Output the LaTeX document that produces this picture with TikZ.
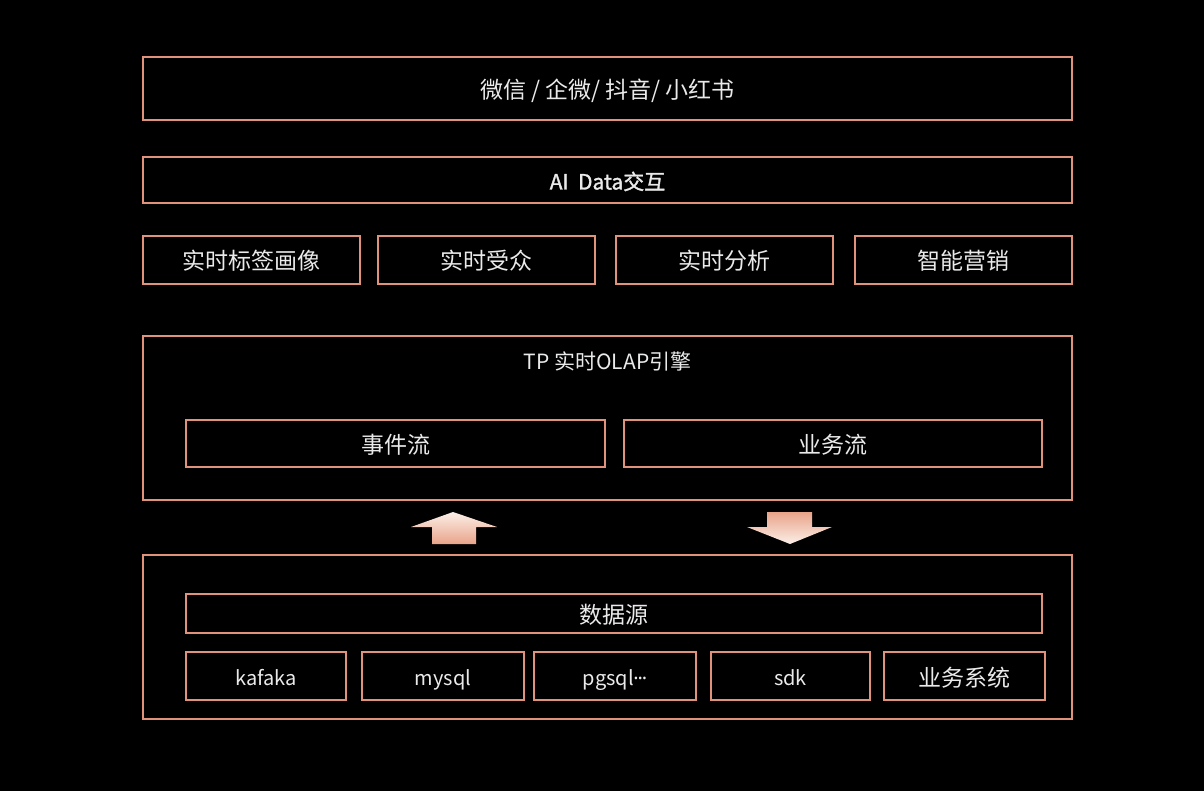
\documentclass[tikz,border=0pt]{standalone}
\usepackage{fontspec}
\setmainfont{Noto Sans CJK SC}
\newfontfamily\aifont[FakeBold=1.5]{Noto Sans CJK SC}
\newfontfamily\latinf{Noto Sans}
\usetikzlibrary{shadings}
\definecolor{boxc}{HTML}{E0937A}
\definecolor{txtc}{HTML}{EAEAEA}
\definecolor{arrl}{HTML}{FCEFE8}
\definecolor{arrd}{HTML}{E8A489}
\begin{document}
\begin{tikzpicture}[x=1pt,y=-1pt,
  bx/.style={draw=boxc,line width=2.4pt,text=txtc,inner sep=0pt,text height=20pt,text depth=0pt,font=\fontsize{23}{26}\selectfont},
  small/.style={bx,text height=18pt,font=\fontsize{20}{24}\selectfont},
  ttl/.style={text=txtc,inner sep=0pt,text height=19pt,text depth=0pt,font=\fontsize{21}{24}\selectfont}]
\fill[black] (0,0) rectangle (1204,791);
\useasboundingbox (0,0) rectangle (1204,791);
% top
\node[bx,minimum width=929pt,minimum height=63pt] (top) at (607.5,88.5) {微信 / 企微/ 抖音/ 小红书};
\node[bx,minimum width=929pt,minimum height=46pt,text height=19pt,font=\fontsize{21}{24}\aifont] (ai) at (607.5,180) {AI\ \ Data交互};
% row
\node[bx,minimum width=217pt,minimum height=48pt] (r1) at (251.5,260) {实时标签画像};
\node[bx,minimum width=217pt,minimum height=48pt] (r2) at (486.5,260) {实时受众};
\node[bx,minimum width=217pt,minimum height=48pt] (r3) at (724.5,260) {实时分析};
\node[bx,minimum width=217pt,minimum height=48pt] (r4) at (963.5,260) {智能营销};
% TP
\node[bx,minimum width=929pt,minimum height=164pt] (tp) at (607.5,418) {};
\node[ttl] (tpt) at (607.5,360) {TP 实时OLAP引擎};
\node[bx,minimum width=419pt,minimum height=47pt] (ev) at (395.5,443.5) {事件流};
\node[bx,minimum width=418pt,minimum height=47pt] (bz) at (833,443.5) {业务流};
% arrows
\shade[top color=arrl,bottom color=arrd] (453,512) -- (497,527) -- (476,527) -- (476,544) -- (432,544) -- (432,527) -- (411,527) -- cycle;
\shade[top color=arrd,bottom color=arrl] (767,512) -- (812,512) -- (812,527) -- (832,527) -- (790,544) -- (747,527) -- (767,527) -- cycle;
% bottom
\node[bx,minimum width=929pt,minimum height=164pt] (bt) at (607.5,637) {};
\node[bx,minimum width=856pt,minimum height=39pt] (ds) at (614,613.5) {数据源};
\node[small,minimum width=160pt,minimum height=48pt] (s1) at (266,676) {kafaka};
\node[small,minimum width=162pt,minimum height=48pt] (s2) at (443,676) {mysql};
\node[small,minimum width=162pt,minimum height=48pt] (s3) at (615,676) {pgsql{\latinf\kern-0.5pt·\kern-1pt·\kern-1pt·}};
\node[small,minimum width=159pt,minimum height=48pt] (s4) at (790.5,676) {sdk};
\node[bx,minimum width=161pt,minimum height=48pt] (s5) at (964.5,676) {业务系统};
\end{tikzpicture}
\end{document}
